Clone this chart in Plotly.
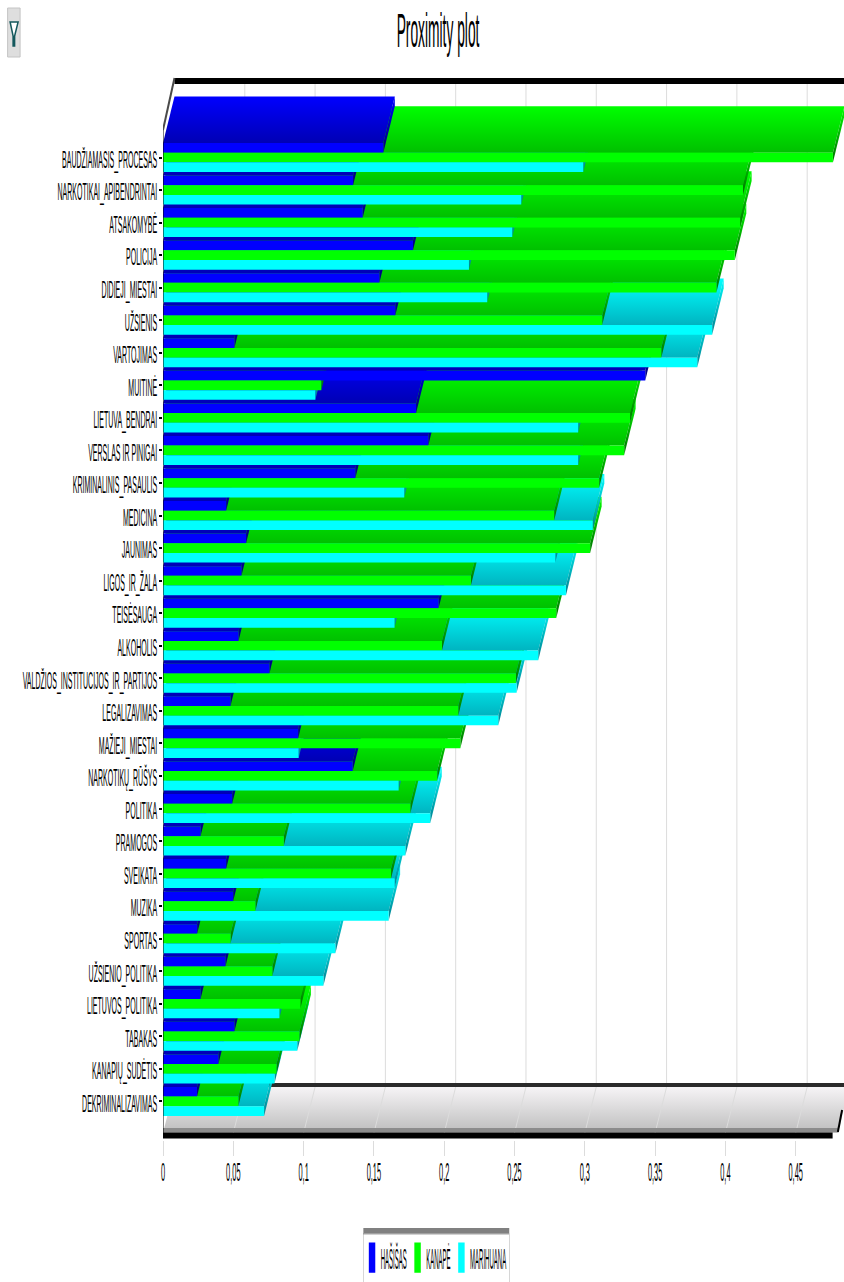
import plotly.graph_objects as go

categories = ["BAUDŽIAMASIS_PROCESAS", "NARKOTIKAI_APIBENDRINTAI", "ATSAKOMYBĖ", "POLICIJA", "DIDIEJI_MIESTAI",
              "UŽSIENIS", "VARTOJIMAS", "MUITINĖ", "LIETUVA_BENDRAI", "VERSLAS IR PINIGAI",
              "KRIMINALINIS_PASAULIS", "MEDICINA", "JAUNIMAS", "LIGOS_IR_ŽALA", "TEISĖSAUGA",
              "ALKOHOLIS", "VALDŽIOS_INSTITUCIJOS_IR_PARTIJOS", "LEGALIZAVIMAS", "MAŽIEJI_MIESTAI", "NARKOTIKŲ_RŪŠYS",
              "POLITIKA", "PRAMOGOS", "SVEIKATA", "MUZIKA", "SPORTAS",
              "UŽSIENIO_POLITIKA", "LIETUVOS_POLITIKA", "TABAKAS", "KANAPIŲ_SUDĖTIS", "DEKRIMINALIZAVIMAS"]
hasisas = [0.1567, 0.1352, 0.1420, 0.1778, 0.1539, 0.1652, 0.0508, 0.3430, 0.1800, 0.1887,
           0.1368, 0.0449, 0.0591, 0.0558, 0.1960, 0.0537, 0.0757, 0.0480, 0.0961, 0.1349,
           0.0492, 0.0267, 0.0449, 0.0499, 0.0243, 0.0444, 0.0267, 0.0508, 0.0394, 0.0242]
kanape = [0.4765, 0.4125, 0.4105, 0.4067, 0.3936, 0.3124, 0.3544, 0.1126, 0.3322, 0.3280,
          0.3102, 0.2782, 0.3038, 0.2190, 0.2797, 0.1984, 0.2510, 0.2100, 0.2115, 0.1950,
          0.1759, 0.0859, 0.1622, 0.0657, 0.0480, 0.0778, 0.0977, 0.0970, 0.0807, 0.0536]
marihuana = [0.2989, 0.2548, 0.2484, 0.2176, 0.2306, 0.3906, 0.3800, 0.1084, 0.2953, 0.2953,
             0.1716, 0.3057, 0.2790, 0.2866, 0.1647, 0.2669, 0.2515, 0.2385, 0.0965, 0.1676,
             0.1901, 0.1724, 0.1647, 0.1605, 0.1226, 0.1141, 0.0828, 0.0955, 0.0793, 0.0719]
x_ticks = [0, 0.05, 0.1, 0.15, 0.2, 0.25, 0.3, 0.35, 0.4, 0.45]
x_tick_labels = ["0", "0,05", "0,1", "0,15", "0,2", "0,25", "0,3", "0,35", "0,4", "0,45"]

FONT = "Liberation Sans Narrow, Liberation Sans, sans-serif"
W, H = 844, 1282
L, T, B = 162.5, 70, 1140          # plot area edges in pixels
PX_PER_X = 1407.0
PX_PER_Y = 32.55
Y0_PX = 157.5                      # centre of the first category


def ux(px):
    return (px - L) / PX_PER_X


def uy(px):
    return (px - Y0_PX) / PX_PER_Y


XMAX = ux(W)
DX = 11.5 / PX_PER_X               # depth of the 3D projection
DY = 46.5 / PX_PER_Y
GROUP = 0.89
BAR_H = GROUP / 3
AXIS_END = 0.48


def px_x(px):
    return (px - L) / (W - L)


def px_y(py):
    return 1 - (py - T) / (B - T)


fig = go.Figure()


def line(xs, ys, color, width):
    fig.add_trace(go.Scatter(x=xs, y=ys, mode="lines", line=dict(color=color, width=width),
                             hoverinfo="skip", showlegend=False, cliponaxis=False))


# floor
fy, by = uy(1133), uy(1087)
fig.add_trace(go.Scatter(x=[0, AXIS_END, AXIS_END + DX, DX, 0], y=[fy, fy, by, by, fy], mode="lines", fill="toself",
                         line=dict(color="#c8c8c8", width=0),
                         fillgradient=dict(type="vertical", colorscale=[[0, "#bdbdbd"], [1, "#f6f4f6"]]),
                         hoverinfo="skip", showlegend=False))
# gridlines: back wall, then across the floor
for t in x_ticks[1:]:
    line([t + DX, t + DX, t], [uy(83), by, fy], "#dcdcdc", 1)
line([DX, XMAX], [uy(1085), uy(1085)], "#2a2a2a", 4)
line([DX, XMAX], [uy(81), uy(81)], "#000000", 6)
line([0, DX], [uy(130), uy(78)], "#4a4a4a", 2)
line([0, AXIS_END], [uy(1130), uy(1130)], "#8c8c8c", 4)
line([0, ux(832.6)], [uy(1135.5), uy(1135.5)], "#000000", 6)
line([AXIS_END, AXIS_END + 0.003], [uy(1132), uy(1110)], "#000000", 2)

# depth faces of all bars, painted from the bottom row upwards
faces = [
    (hasisas, -1, "#0000ff", "#0000b4", "#00006e"),
    (kanape, 0, "#00ff00", "#00c000", "#006e00"),
    (marihuana, 1, "#00ffff", "#00b4c0", "#007c8c"),
]
for i in range(len(categories) - 1, -1, -1):
    for values, slot, c_back, c_front, c_side in reversed(faces):
        v = values[i]
        top = i + slot * BAR_H - BAR_H / 2
        bot = top + BAR_H
        fig.add_trace(go.Scatter(
            x=[0, v, v + DX, DX, 0], y=[top, top, top - DY, top - DY, top],
            mode="lines", fill="toself", line=dict(width=0, color=c_front),
            fillgradient=dict(type="vertical", colorscale=[[0, c_front], [1, c_back]]),
            hoverinfo="skip", showlegend=False))
        fig.add_trace(go.Scatter(
            x=[v, v, v + DX, v + DX, v], y=[top, bot, bot - DY, top - DY, top],
            mode="lines", fill="toself", line=dict(width=0, color=c_side),
            fillgradient=dict(type="vertical", colorscale=[[0, c_side], [1, c_back]]),
            hoverinfo="skip", showlegend=False))

# front faces
for name, values, color in [("HAŠIŠAS", hasisas, "#0000ff"), ("KANAPĖ", kanape, "#00ff00"), ("MARIHUANA", marihuana, "#00ffff")]:
    fig.add_trace(go.Bar(name=name, x=values, y=categories, orientation="h", marker=dict(color=color, line=dict(width=0)),
                         xaxis="x2", yaxis="y2"))

# left axis line, above the front faces
fig.add_trace(go.Scatter(x=[ux(162), ux(162)], y=[uy(130), uy(1138)], mode="lines", line=dict(color="#000000", width=2),
                         hoverinfo="skip", showlegend=False, cliponaxis=False, xaxis="x2", yaxis="y3"))

yrange = [uy(B), uy(T)]
shapes = [
    dict(type="rect", xref="paper", yref="paper", x0=px_x(7), x1=px_x(19.5), y0=px_y(57), y1=px_y(8),
         fillcolor="#dedede", line=dict(color="#c4c4c4", width=1)),
    dict(type="path", xref="paper", yref="paper",
         path=f"M {px_x(9.5)} {px_y(22)} L {px_x(17.5)} {px_y(22)} L {px_x(14)} {px_y(36)} L {px_x(14)} {px_y(46)} "
              f"L {px_x(12.5)} {px_y(46)} L {px_x(12.5)} {px_y(36)} Z",
         fillcolor="#ffffff", line=dict(color="#14585c", width=1.5)),
    dict(type="rect", xref="paper", yref="paper", x0=px_x(363), x1=px_x(509), y0=px_y(1233), y1=px_y(1228),
         fillcolor="#808080", line=dict(width=0), layer="above"),
]

fig.update_layout(
    width=W, height=H, autosize=False,
    margin=dict(l=L, r=0, t=T, b=H - B, pad=0, autoexpand=False),
    paper_bgcolor="#ffffff", plot_bgcolor="#ffffff",
    font=dict(family=FONT, color="#000000"),
    title=dict(text="Proximity plot", x=438 / W, xanchor="center", y=1 - 30 / H, yanchor="middle",
               font=dict(family=FONT, size=15, color="#000000")),
    barmode="group", bargap=1 - GROUP, bargroupgap=0,
    shapes=shapes,
    hovermode=False,
    legend=dict(orientation="h", x=0.4, y=-0.08, xanchor="left", yanchor="top", bgcolor="#ffffff",
                bordercolor="#a0a0a0", borderwidth=1, font=dict(family=FONT, size=14, color="#000000"),
                traceorder="normal", itemsizing="constant"),
    xaxis=dict(range=[0, XMAX], tickmode="array", tickvals=x_ticks, ticktext=x_tick_labels, showgrid=False, zeroline=False,
               ticks="outside", ticklen=15, tickcolor="#dcdcdc", tickfont=dict(family=FONT, size=9.5), showline=False),
    yaxis=dict(range=yrange, visible=False, showgrid=False, zeroline=False),
    xaxis2=dict(range=[0, XMAX], overlaying="x", visible=False, showgrid=False, zeroline=False),
    yaxis2=dict(type="category", categoryorder="array", categoryarray=categories, range=yrange, overlaying="y", side="left",
                tickmode="array", tickvals=categories, ticktext=categories, showgrid=False, zeroline=False, showline=False,
                ticks="outside", ticklen=3, tickwidth=2, tickcolor="#000000", tickfont=dict(family=FONT, size=9)),
    yaxis3=dict(range=yrange, overlaying="y", visible=False, showgrid=False, zeroline=False),
)

post = """
document.body.style.margin='0';
function squash(sel, sx, sy, dy, right){
  document.querySelectorAll(sel).forEach(function(t){
    var b=t.getBBox(), cx=b.x+b.width/2, cy=b.y+b.height/2, old=t.getAttribute('transform')||'';
    if(right){cx=b.x+b.width;}
    t.setAttribute('transform', old+' translate('+cx+','+(cy+dy)+') scale('+sx+','+sy+') translate('+(-cx)+','+(-cy)+')');
  });
}
squash('.xtick text',0.78,2.7,8,false);
squash('.y2tick text',0.78,2.7,2,true);
squash('.gtitle',0.92,3.2,0,false);
squash('.legend .legendtext',1,1.45,0,false);
squash('.legend .legendpoints path',1.25,1.7,0,false);
var lg=document.querySelector('.legend');
if(lg){
  var bg=lg.querySelector('.bg'), w=parseFloat(bg.getAttribute('width')), h=parseFloat(bg.getAttribute('height'));
  lg.setAttribute('transform','translate(363,1233) scale('+(146/w)+','+(49/h)+')');
}
"""
fig.write_html("out.html", post_script=post, config={"displayModeBar": False})
